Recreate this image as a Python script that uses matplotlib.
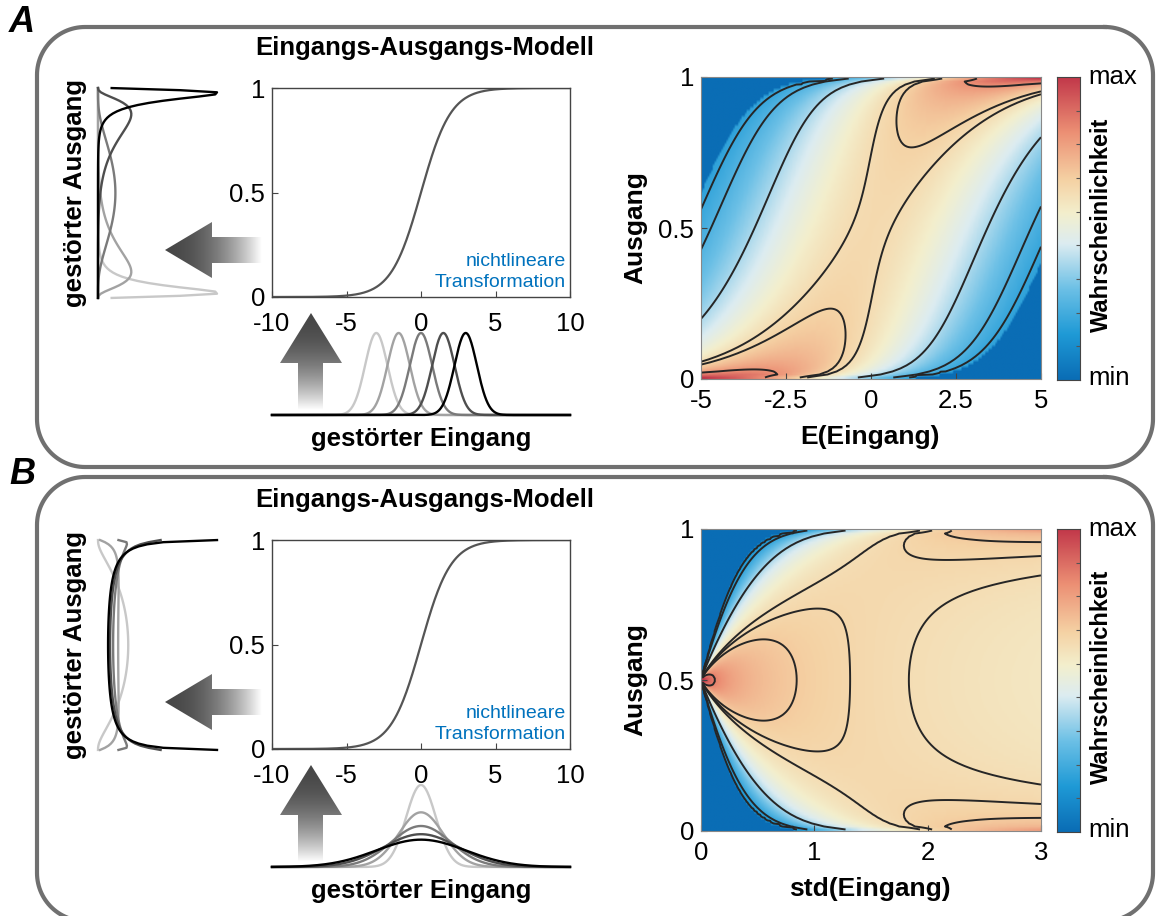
import math
import numpy as np
import matplotlib
matplotlib.use("Agg")
import matplotlib.pyplot as plt
from matplotlib.colors import LinearSegmentedColormap
from matplotlib.patches import Polygon

plt.rcParams['font.family'] = ['Liberation Sans', 'DejaVu Sans']

W, H = 1157, 916

# model: y = sigmoid(slope * x), input x ~ N(mean, sd)
sigmoid_slope = 1.0
sig_xticks = [-10, -5, 0, 5, 10]
sig_xticklabels = ['-10', '-5', '0', '5', '10']
sig_yticks = [0, 0.5, 1]
sig_yticklabels = ['0', '0.5', '1']

# panel A: shifted means, fixed spread
a_input_means = [-3, -1.5, 0, 1.5, 3]
a_input_sd = 0.75
a_map_range = [-5, 5]
a_map_sd = 1.2
a_map_floor = 4e-5
a_levels = [0.2, 0.25, 0.386, 0.62, 0.655, 0.81]
a_xticks = [-5, -2.5, 0, 2.5, 5]
a_xticklabels = ['-5', '-2.5', '0', '2.5', '5']

# panel B: fixed mean, growing spread
b_input_mean = 0
b_input_sds = [1, 1.5, 2, 2.5, 3]
b_map_range = [0.01, 3]
b_map_floor = 1e-6
b_levels = [0.135, 0.19, 0.38, 0.615, 0.64, 0.675, 0.85]
b_xticks = [0, 1, 2, 3]
b_xticklabels = ['0', '1', '2', '3']

curve_grays = ['#c8c8c8', '#a2a2a2', '#7a7a7a', '#4e4e4e', '#000000']
color_power = 0.12
n_bins = 100

cmap = LinearSegmentedColormap.from_list('prob', [
    (0.00, '#0a6db5'), (0.15, '#1f9ad6'), (0.30, '#6cc0e6'),
    (0.45, '#dcecf1'), (0.55, '#f3efcd'), (0.66, '#f5d2a4'),
    (0.82, '#ec8f74'), (1.00, '#c2384a')])

erfc = np.vectorize(math.erfc)


def binned_density(mu, sd):
    edges = np.linspace(0, 1, n_bins + 1)
    with np.errstate(divide='ignore'):
        z = np.log(edges / (1 - edges)) / sigmoid_slope
    a = (z[:-1][:, None] - mu[None, :]) / sd[None, :]
    b = (z[1:][:, None] - mu[None, :]) / sd[None, :]
    r = math.sqrt(2)
    p = np.where(a > 0, 0.5 * (erfc(a / r) - erfc(b / r)),
                 0.5 * (erfc(-b / r) - erfc(-a / r)))
    return p * n_bins


def rect(x0, y0, x1, y1):
    return [x0 / W, 1 - y1 / H, (x1 - x0) / W, (y1 - y0) / H]


fig = plt.figure(figsize=(W / 100, H / 100), dpi=100)
ov = fig.add_axes([0, 0, 1, 1], zorder=-1)
ov.set_xlim(0, W)
ov.set_ylim(H, 0)
ov.axis('off')


def rounded_box(x0, y0, x1, y1, r):
    t = np.linspace(0, np.pi / 2, 30)
    px, py = [], []
    for cx, cy, a0 in [(x1 - r, y0 + r, -np.pi / 2), (x1 - r, y1 - r, 0),
                       (x0 + r, y1 - r, np.pi / 2), (x0 + r, y0 + r, np.pi)]:
        px += list(cx + r * np.cos(a0 + t))
        py += list(cy + r * np.sin(a0 + t))
    px.append(px[0])
    py.append(py[0])
    ov.plot(px, py, color='#707070', lw=3, solid_joinstyle='round')


rounded_box(37, 27, 1153, 467, 48)
rounded_box(37, 477, 1153, 921, 48)
ov.text(22, 22, 'A', fontsize=26, fontweight='bold', style='italic', ha='center', va='center')
ov.text(22, 474, 'B', fontsize=26, fontweight='bold', style='italic', ha='center', va='center')


def grad_arrow(pts, x0, x1, y0, y1, vertical):
    poly = Polygon(pts, closed=True, fc='none', ec='none')
    ov.add_patch(poly)
    t = np.linspace(0, 1, 200)
    g = 0.28 + 0.72 * t ** 2
    img = g[:, None] * np.ones((1, 10)) if vertical else g[None, :] * np.ones((10, 1))
    im = ov.imshow(img, cmap='gray', vmin=0, vmax=1, extent=[x0, x1, y1, y0],
                   origin='upper', aspect='auto', interpolation='bilinear')
    im.set_clip_path(poly)


def sig(x):
    return 1 / (1 + np.exp(-sigmoid_slope * x))


def panel(dy, in_mu, in_sd, map_mu, map_sd, floor, levels, xticks, xticklabels, xlabel):
    # title
    ov.text(425, 48 + dy, 'Eingangs-Ausgangs-Modell', fontsize=18.5, fontweight='bold',
            ha='center', va='center')

    # sigmoid
    ax = fig.add_axes(rect(272, 88 + dy, 570, 297 + dy))
    xs = np.linspace(-10, 10, 400)
    ax.plot(xs, sig(xs), color='#555555', lw=1.6)
    ax.set_xlim(-10, 10)
    ax.set_ylim(0, 1)
    ax.set_xticks(sig_xticks)
    ax.set_xticklabels(sig_xticklabels)
    ax.set_yticks(sig_yticks)
    ax.set_yticklabels(sig_yticklabels)
    ax.tick_params(direction='in', length=4, labelsize=18.5, color='#444444')
    ax.tick_params(axis='x', pad=11)
    ax.tick_params(axis='y', pad=5)
    for s in ax.spines.values():
        s.set_color('#444444')
        s.set_linewidth(1)
    ax.text(0.985, 0.03, 'nichtlineare\nTransformation', transform=ax.transAxes,
            ha='right', va='bottom', multialignment='right', fontsize=14,
            color='#0072BD', linespacing=1.25)

    # input distributions
    axi = fig.add_axes(rect(272, 333 + dy, 570, 415 + dy))
    peak = 0
    for m, s, c in zip(in_mu, in_sd, curve_grays):
        pdf = np.exp(-0.5 * ((xs - m) / s) ** 2) / (s * math.sqrt(2 * math.pi))
        peak = max(peak, pdf.max())
        axi.plot(xs, pdf, color=c, lw=1.7, clip_on=False)
    axi.set_xlim(-10, 10)
    axi.set_ylim(0, peak)
    axi.axis('off')
    ov.text(421, 439 + dy, 'gestörter Eingang', fontsize=18.5, fontweight='bold',
            ha='center', va='center')

    # output distributions
    axo = fig.add_axes(rect(98, 87 + dy, 217, 299 + dy))
    ys = (np.arange(n_bins) + 0.5) / n_bins
    dens = binned_density(np.array(in_mu, float), np.array(in_sd, float))
    for k, c in enumerate(curve_grays):
        axo.plot(dens[:, k], ys, color=c, lw=1.7, clip_on=False)
    axo.set_xlim(0, dens.max())
    axo.set_ylim(0, 1)
    axo.axis('off')
    ov.text(75, 193 + dy, 'gestörter Ausgang', fontsize=18.5, fontweight='bold',
            ha='center', va='center', rotation=90)

    # arrows
    grad_arrow([(165, 250 + dy), (212, 222 + dy), (212, 237 + dy), (262, 237 + dy),
                (262, 263 + dy), (212, 263 + dy), (212, 278 + dy)],
               165, 262, 220 + dy, 280 + dy, vertical=False)
    grad_arrow([(311, 313 + dy), (342, 363 + dy), (323, 363 + dy), (323, 410 + dy),
                (298, 410 + dy), (298, 363 + dy), (280, 363 + dy)],
               278, 344, 313 + dy, 410 + dy, vertical=True)

    # heatmap
    axh = fig.add_axes(rect(701, 77 + dy, 1041, 379 + dy))
    d = binned_density(map_mu, map_sd)
    c = d ** color_power
    c[d < floor] = 0
    c = c / c.max()
    xv = map_mu if np.ptp(map_mu) > 0 else map_sd
    axh.imshow(c, origin='lower', extent=[xv[0], xv[-1], 0, 1], aspect='auto',
               cmap=cmap, vmin=0, vmax=1, interpolation='bilinear')
    axh.contour(xv, ys, c, levels=levels, colors='#262626', linewidths=1.4)
    axh.set_xlim(xv[0] if xv[0] < 0 else 0, xv[-1])
    axh.set_ylim(0, 1)
    axh.set_xticks(xticks)
    axh.set_xticklabels(xticklabels)
    axh.set_yticks([0, 0.5, 1])
    axh.set_yticklabels(['0', '0.5', '1'])
    axh.tick_params(direction='in', length=4, labelsize=18.5, color='#444444')
    axh.tick_params(axis='x', pad=7)
    axh.tick_params(axis='y', pad=5)
    for s in axh.spines.values():
        s.set_color('#888888')
        s.set_linewidth(0.8)
    ov.text(635, 228 + dy, 'Ausgang', fontsize=19, fontweight='bold',
            ha='center', va='center', rotation=90)
    ov.text(870, 437 + dy, xlabel, fontsize=19, fontweight='bold',
            ha='center', va='center')

    # colorbar
    axc = fig.add_axes(rect(1057, 77 + dy, 1080, 380 + dy))
    axc.imshow(np.linspace(0, 1, 256)[:, None], origin='lower', aspect='auto',
               cmap=cmap, extent=[0, 1, 0, 1])
    axc.set_xticks([])
    axc.yaxis.tick_right()
    axc.set_yticks(np.linspace(0, 1, 10)[1:-1])
    axc.set_yticklabels([])
    axc.tick_params(direction='in', length=3, color='#555555')
    for s in axc.spines.values():
        s.set_color('#444444')
        s.set_linewidth(0.8)
    ov.text(1088, 77 + dy, 'max', fontsize=18.5, ha='left', va='center')
    ov.text(1088, 378 + dy, 'min', fontsize=18.5, ha='left', va='center')
    ov.text(1101, 225 + dy, 'Wahrscheinlichkeit', fontsize=17, fontweight='bold',
            ha='center', va='center', rotation=90)


a_mu = np.linspace(a_map_range[0], a_map_range[1], 201)
panel(0, a_input_means, [a_input_sd] * 5, a_mu, np.full_like(a_mu, a_map_sd),
      a_map_floor, a_levels, a_xticks, a_xticklabels, 'E(Eingang)')

b_sd = np.linspace(b_map_range[0], b_map_range[1], 300)
panel(452, [b_input_mean] * 5, b_input_sds, np.full_like(b_sd, b_input_mean), b_sd,
      b_map_floor, b_levels, b_xticks, b_xticklabels, 'std(Eingang)')

fig.savefig('out.png', dpi=100)
